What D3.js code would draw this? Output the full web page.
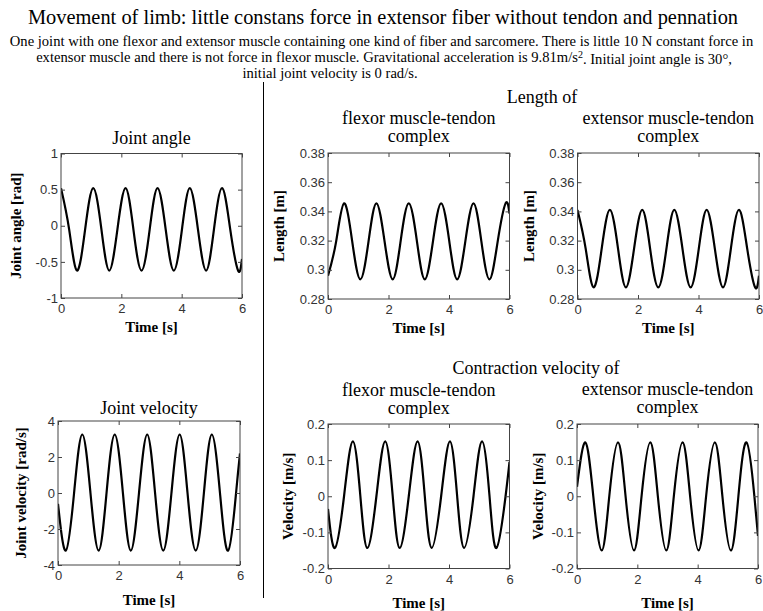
<!DOCTYPE html>
<html>
<head>
<meta charset="utf-8">
<script src="https://cdn.jsdelivr.net/npm/d3@7/dist/d3.min.js"></script>
<style>
  body { margin: 0; background: #fff; }
  .tick text { font-family: "Liberation Sans", Arial, sans-serif; font-size: 13px; fill: #333; }
  .serif { font-family: "Liberation Serif", "Times New Roman", serif; fill: #000; }
</style>
</head>
<body>
<svg id="chart" width="763" height="611"></svg>
<script>
// values: [time (s), value]
const timeTicks = [0, 2, 4, 6]

const jointAngle = [
  [0, 0.52], [0.27, -0.05], [0.53, -0.62], [0.80, -0.05], [1.07, 0.52], [1.34, -0.05],
  [1.60, -0.62], [1.87, -0.05], [2.14, 0.52], [2.40, -0.05], [2.67, -0.62], [2.94, -0.05],
  [3.20, 0.52], [3.47, -0.05], [3.74, -0.62], [4.01, -0.05], [4.27, 0.52], [4.54, -0.05],
  [4.81, -0.62], [5.07, -0.05], [5.34, 0.52], [5.61, -0.05], [5.87, -0.62], [6.0, -0.46]
]

const jointVelocity = [
  [0, -0.6], [0.26, -3.2], [0.53, 0], [0.80, 3.25], [1.07, 0], [1.34, -3.2],
  [1.60, 0], [1.87, 3.25], [2.14, 0], [2.40, -3.2], [2.67, 0], [2.94, 3.25],
  [3.20, 0], [3.47, -3.2], [3.74, 0], [4.01, 3.25], [4.27, 0], [4.54, -3.2],
  [4.81, 0], [5.07, 3.25], [5.34, 0], [5.61, -3.2], [5.87, 0], [6.0, 2.2]
]

const flexorLength = [
  [0, 0.296], [0.27, 0.3195], [0.53, 0.3455], [0.80, 0.3195], [1.07, 0.2935], [1.34, 0.3195],
  [1.60, 0.3455], [1.87, 0.3195], [2.14, 0.2935], [2.40, 0.3195], [2.67, 0.3455], [2.94, 0.3195],
  [3.20, 0.2935], [3.47, 0.3195], [3.74, 0.3455], [4.01, 0.3195], [4.27, 0.2935], [4.54, 0.3195],
  [4.81, 0.3455], [5.07, 0.3195], [5.34, 0.2935], [5.61, 0.3195], [5.87, 0.3455], [6.0, 0.3385]
]

const extensorLength = [
  [0, 0.341], [0.27, 0.3145], [0.53, 0.288], [0.80, 0.3145], [1.07, 0.341], [1.34, 0.3145],
  [1.60, 0.288], [1.87, 0.3145], [2.14, 0.341], [2.40, 0.3145], [2.67, 0.288], [2.94, 0.3145],
  [3.20, 0.341], [3.47, 0.3145], [3.74, 0.288], [4.01, 0.3145], [4.27, 0.341], [4.54, 0.3145],
  [4.81, 0.288], [5.07, 0.3145], [5.34, 0.341], [5.61, 0.3145], [5.87, 0.288], [6.0, 0.296]
]

const flexorVelocity = [
  [0, -0.035], [0.23, -0.143], [0.53, 0], [0.82, 0.152], [1.07, 0], [1.30, -0.143],
  [1.60, 0], [1.89, 0.152], [2.14, 0], [2.37, -0.143], [2.67, 0], [2.96, 0.152],
  [3.20, 0], [3.43, -0.143], [3.74, 0], [4.03, 0.152], [4.27, 0], [4.50, -0.143],
  [4.81, 0], [5.09, 0.152], [5.34, 0], [5.57, -0.143], [5.87, 0], [6.0, 0.095]
]

const extensorVelocity = [
  [0, 0.026], [0.28, 0.149], [0.54, 0], [0.82, -0.150], [1.07, 0], [1.36, 0.149],
  [1.61, 0], [1.89, -0.150], [2.14, 0], [2.43, 0.149], [2.68, 0], [2.96, -0.150],
  [3.21, 0], [3.50, 0.149], [3.75, 0], [4.03, -0.150], [4.28, 0], [4.57, 0.149],
  [4.82, 0], [5.10, -0.150], [5.35, 0], [5.62, 0.149], [5.88, 0], [6.0, -0.11]
]

const angleTicks = [-1, -0.5, 0, 0.5, 1]
const jointVelTicks = [-4, -2, 0, 2, 4]
const lengthTicks = [0.28, 0.3, 0.32, 0.34, 0.36, 0.38]
const velocityTicks = [-0.2, -0.1, 0, 0.1, 0.2]

const panels = [
  { data: jointAngle, title: ["Joint angle"], ylabel: "Joint angle [rad]",
    yDomain: [-1, 1], yTicks: angleTicks, box: [61, 153.5, 242, 298], titleY: 138, ylabX: 16, xlabY: 327 },
  { data: flexorLength, title: ["flexor muscle-tendon", "complex"], ylabel: "Length [m]",
    yDomain: [0.28, 0.38], yTicks: lengthTicks, box: [328, 153, 509.5, 299], titleY: 118, ylabX: 279, xlabY: 328 },
  { data: extensorLength, title: ["extensor muscle-tendon", "complex"], ylabel: "Length [m]",
    yDomain: [0.28, 0.38], yTicks: lengthTicks, box: [577.5, 153, 759, 299], titleY: 118, ylabX: 529, xlabY: 328 },
  { data: jointVelocity, title: ["Joint velocity"], ylabel: "Joint velocity [rad/s]",
    yDomain: [-4, 4], yTicks: jointVelTicks, box: [58, 421, 240, 565], titleY: 408, ylabX: 21, xlabY: 600 },
  { data: flexorVelocity, title: ["flexor muscle-tendon", "complex"], ylabel: "Velocity [m/s]",
    yDomain: [-0.2, 0.2], yTicks: velocityTicks, box: [328, 424, 509.5, 568.5], titleY: 390, ylabX: 288, xlabY: 603 },
  { data: extensorVelocity, title: ["extensor muscle-tendon", "complex"], ylabel: "Velocity [m/s]",
    yDomain: [-0.2, 0.2], yTicks: velocityTicks, box: [577, 424, 758, 568.5], titleY: 389, ylabX: 538, xlabY: 603 }
]

const svg = d3.select("#chart")
const fmt = d => String(+d.toFixed(2))

// header text
svg.append("text").attr("class", "serif")
  .attr("x", 383).attr("y", 17).attr("dy", "0.35em")
  .attr("text-anchor", "middle").style("font-size", "20.4px")
  .text("Movement of limb: little constans force in extensor fiber without tendon and pennation")

const sub = svg.append("g").attr("class", "serif").style("font-size", "14.6px").attr("text-anchor", "middle")
sub.append("text").attr("x", 381.5).attr("y", 41).attr("dy", "0.35em")
  .text("One joint with one flexor and extensor muscle containing one kind of fiber and sarcomere. There is little 10 N constant force in")
const l2 = sub.append("text").attr("x", 384).attr("y", 57).attr("dy", "0.35em")
l2.append("tspan").text("extensor muscle  and there is not force in flexor muscle. Gravitational acceleration is 9.81m/s")
l2.append("tspan").attr("dy", "-0.4em").style("font-size", "10px").text("2")
l2.append("tspan").attr("dy", "0.4em").text(". Initial joint angle is 30°,")
sub.append("text").attr("x", 330).attr("y", 73).attr("dy", "0.35em")
  .text("initial joint velocity is 0 rad/s.")

svg.append("text").attr("class", "serif").attr("x", 542).attr("y", 97).attr("dy", "0.35em")
  .attr("text-anchor", "middle").style("font-size", "18px").text("Length of")
svg.append("text").attr("class", "serif").attr("x", 536).attr("y", 368).attr("dy", "0.35em")
  .attr("text-anchor", "middle").style("font-size", "18px").text("Contraction velocity of")

// divider
svg.append("line").attr("x1", 263.5).attr("x2", 263.5).attr("y1", 82).attr("y2", 598)
  .style("stroke", "#000").style("stroke-width", 1)

panels.forEach((p, i) => {
  const [x0, y0, x1, y1] = p.box
  const x = d3.scaleLinear().domain([0, 6]).range([x0, x1])
  const y = d3.scaleLinear().domain(p.yDomain).range([y1, y0])
  const g = svg.append("g")

  g.append("clipPath").attr("id", "clip" + i)
    .append("rect").attr("x", x0).attr("y", y0).attr("width", x1 - x0).attr("height", y1 - y0)

  const line = d3.line().x(d => x(d[0])).y(d => y(d[1])).curve(d3.curveNatural)
  g.append("path").datum(p.data)
    .attr("clip-path", `url(#clip${i})`)
    .attr("d", line)
    .style("fill", "none").style("stroke", "#000").style("stroke-width", 2.2)

  const bottom = g.append("g").attr("transform", `translate(0,${y1})`)
    .call(d3.axisBottom(x).tickValues(timeTicks).tickFormat(fmt).tickSizeInner(-4).tickSizeOuter(0).tickPadding(6))
  const left = g.append("g").attr("transform", `translate(${x0},0)`)
    .call(d3.axisLeft(y).tickValues(p.yTicks).tickFormat(fmt).tickSizeInner(-4).tickSizeOuter(0).tickPadding(3))
  const top = g.append("g").attr("transform", `translate(0,${y0})`)
    .call(d3.axisTop(x).tickValues(timeTicks).tickFormat("").tickSizeInner(-4).tickSizeOuter(0))
  const right = g.append("g").attr("transform", `translate(${x1},0)`)
    .call(d3.axisRight(y).tickValues(p.yTicks).tickFormat("").tickSizeInner(-4).tickSizeOuter(0))
  ;[bottom, left, top, right].forEach(a => {
    a.select(".domain").remove()
    a.selectAll(".tick line").style("stroke", "#444")
  })

  g.append("rect").attr("x", x0).attr("y", y0).attr("width", x1 - x0).attr("height", y1 - y0)
    .style("fill", "none").style("stroke", "#444").style("stroke-width", 1)

  const cx = (x0 + x1) / 2
  p.title.forEach((t, k) => {
    g.append("text").attr("class", "serif")
      .attr("x", cx).attr("y", p.titleY + k * 18).attr("dy", "0.35em")
      .attr("text-anchor", "middle").style("font-size", "18px").text(t)
  })

  g.append("text").attr("class", "serif")
    .attr("x", cx).attr("y", p.xlabY).attr("dy", "0.35em")
    .attr("text-anchor", "middle").style("font-size", "15px").style("font-weight", "bold")
    .text("Time [s]")

  g.append("text").attr("class", "serif")
    .attr("transform", `translate(${p.ylabX},${(y0 + y1) / 2}) rotate(-90)`)
    .attr("dy", "0.35em")
    .attr("text-anchor", "middle").style("font-size", "15px").style("font-weight", "bold")
    .text(p.ylabel)
})
</script>
</body>
</html>
